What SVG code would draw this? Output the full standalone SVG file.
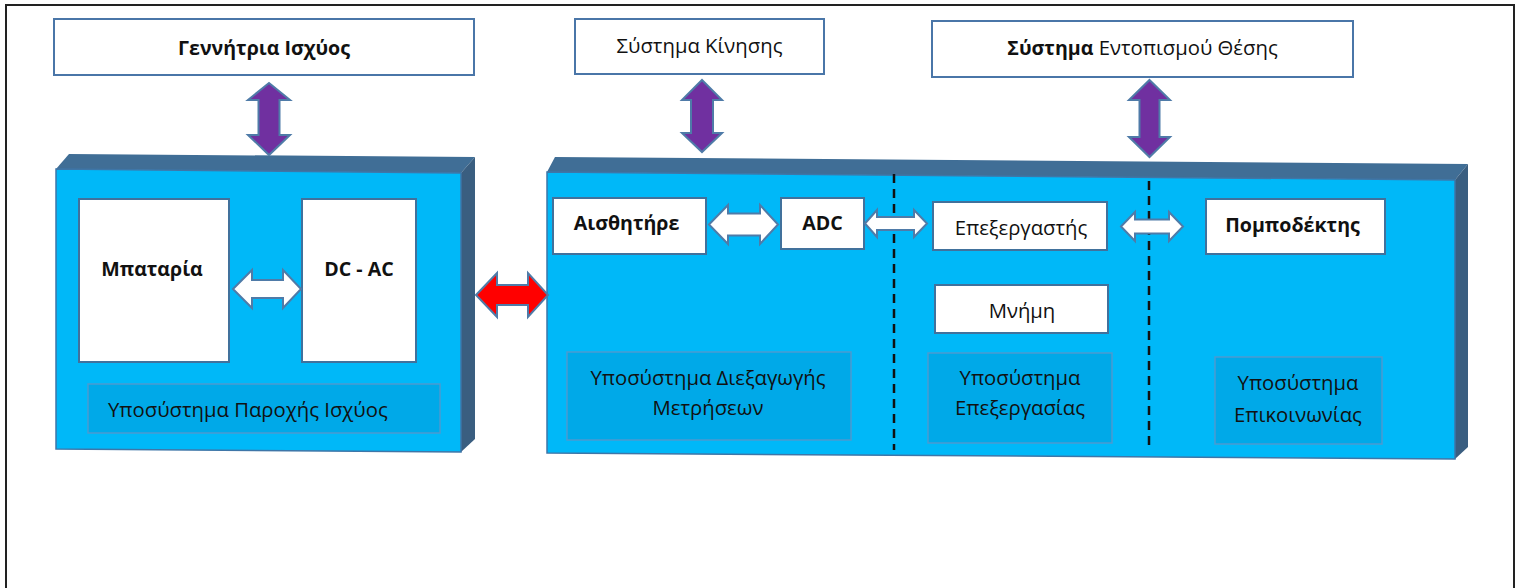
<svg xmlns="http://www.w3.org/2000/svg" width="1522" height="588" viewBox="0 0 1522 588">
<style>
.t{font-family:"Open Sans","Liberation Sans",sans-serif;font-size:20.3px;fill:#111}
.b{font-weight:bold;font-size:19.6px}
.m{text-anchor:middle}
.box{fill:#fff;stroke:#41719C;stroke-width:2}
.hdr{fill:#fff;stroke:#4A76A8;stroke-width:2}
.sub{fill:#00A9E8;stroke:#4B9AD0;stroke-width:1.5}
.front{fill:#00B8F8;stroke:#3E76A8;stroke-width:1.5}
.bevel{fill:#406E96}
.side{fill:#3A5E80}
.wa{fill:#fff;stroke:#4F7BA8;stroke-width:2;stroke-linejoin:miter}
.pa{fill:#7030A0;stroke:#4F7BA8;stroke-width:2}
.ra{fill:#FF0000;stroke:#4F7BA8;stroke-width:2}
.dash{stroke:#111;stroke-width:2.5;stroke-dasharray:9 6;fill:none}
</style>
<rect width="1522" height="588" fill="#fff"/>
<path d="M6,592 V5 H1514 V592" fill="none" stroke="#222" stroke-width="2"/>

<g id="power-block">
<polygon class="bevel" points="56,169 69,154 475,157 461,173"/>
<polygon class="side" points="461,173 475,157 475,439 461,452"/>
<polygon class="front" points="56,169 461,173 461,452 56,449"/>
</g>
<g id="main-block">
<polygon class="bevel" points="547,172 555,157 1468,164 1455,180"/>
<polygon class="side" points="1455,180 1468,164 1468,447 1455,459"/>
<polygon class="front" points="547,172 1455,180 1455,459 547,453"/>
<line class="dash" x1="894" y1="174" x2="894" y2="450"/>
<line class="dash" x1="1149" y1="181" x2="1149" y2="448"/>
</g>

<g id="generator">
<rect class="hdr" x="54" y="19" width="420" height="56"/>
<text class="t b m" x="264" y="55">Γεννήτρια Ισχύος</text>
</g>
<g id="motion">
<rect class="hdr" x="575" y="19" width="249" height="55"/>
<text class="t m" x="699.5" y="53">Σύστημα Κίνησης</text>
</g>
<g id="positioning">
<rect class="hdr" x="932" y="21" width="421" height="56"/>
<text class="t m" x="1142.5" y="55"><tspan class="b">Σύστημα</tspan> Εντοπισμού Θέσης</text>
</g>

<g id="battery">
<rect class="box" x="79" y="199" width="150" height="163"/>
<text class="t b m" x="152" y="276">Μπαταρία</text>
</g>
<g id="dcac">
<rect class="box" x="302" y="199" width="114" height="163"/>
<text class="t b m" x="359" y="276">DC - AC</text>
</g>
<g id="power-subsystem">
<rect class="sub" x="88" y="384" width="352" height="49"/>
<text class="t" x="108" y="417">Υποσύστημα Παροχής Ισχύος</text>
</g>

<g id="sensor">
<rect class="box" x="553" y="198" width="153" height="56"/>
<text class="t b m" x="626.5" y="230">Αισθητήρε</text>
</g>
<g id="adc">
<rect class="box" x="781" y="198" width="83" height="51"/>
<text class="t b m" x="822.5" y="230">ADC</text>
</g>
<g id="measurement-subsystem">
<rect class="sub" x="567" y="352" width="284" height="88"/>
<text class="t m" x="708" y="385">Υποσύστημα Διεξαγωγής</text>
<text class="t m" x="708" y="415">Μετρήσεων</text>
</g>

<g id="processor">
<rect class="box" x="933" y="202" width="174" height="48"/>
<text class="t m" x="1021" y="235">Επεξεργαστής</text>
</g>
<g id="memory">
<rect class="box" x="935" y="285" width="173" height="48"/>
<text class="t m" x="1022" y="318">Μνήμη</text>
</g>
<g id="processing-subsystem">
<rect class="sub" x="928" y="353" width="184" height="90"/>
<text class="t m" x="1020" y="385">Υποσύστημα</text>
<text class="t m" x="1020" y="415">Επεξεργασίας</text>
</g>

<g id="transceiver">
<rect class="box" x="1206" y="199" width="179" height="55"/>
<text class="t b m" x="1292.5" y="232">Πομποδέκτης</text>
</g>
<g id="communication-subsystem">
<rect class="sub" x="1215" y="357" width="167" height="87"/>
<text class="t m" x="1298" y="390">Υποσύστημα</text>
<text class="t m" x="1298" y="422">Επικοινωνίας</text>
</g>

<g id="connectors">
<polygon class="pa" points="269,83 290,100 279.5,100 279.5,135 290,135 269,155 248,135 258.5,135 258.5,100 248,100"/>
<polygon class="pa" points="702,80 722,100 713,100 713,133 722,133 702,152 682,133 691,133 691,100 682,100"/>
<polygon class="pa" points="1149.5,80 1170,100 1159.5,100 1159.5,137 1170,137 1149.5,157 1129,137 1139.5,137 1139.5,100 1129,100"/>
<polygon class="wa" points="233,289 252,270 252,280 283,280 283,270 301,289 283,308 283,298 252,298 252,308"/>
<polygon class="ra" points="476,295 497,273 497,285 528,285 528,273 548,295 528,317 528,305 497,305 497,317"/>
<polygon class="wa" points="709,224.5 728,205 728,213.5 760,213.5 760,205 778,224.5 760,244 760,235.5 728,235.5 728,244"/>
<polygon class="wa" points="865,223.5 877,210 877,217 914,217 914,210 927,223.5 914,237 914,230 877,230 877,237"/>
<polygon class="wa" points="1121,226.5 1135,212 1135,219.5 1169,219.5 1169,212 1183,226.5 1169,241 1169,233.5 1135,233.5 1135,241"/>
</g>
</svg>
